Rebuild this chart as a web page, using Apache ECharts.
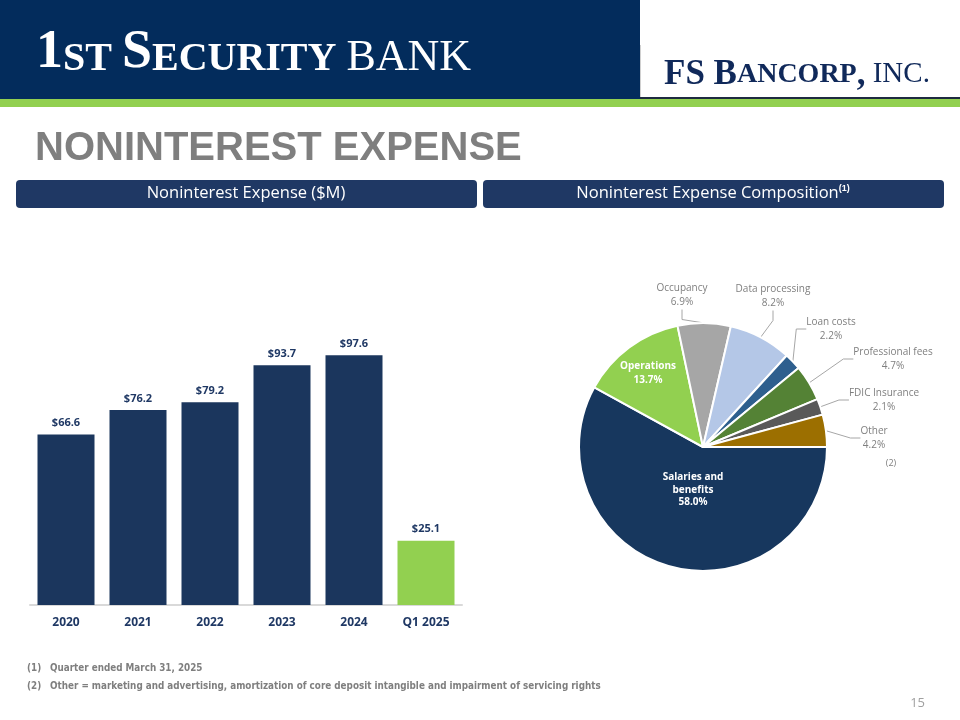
<!DOCTYPE html>
<html>
<head>
<meta charset="utf-8">
<script src="https://cdn.jsdelivr.net/npm/echarts@6/dist/echarts.min.js"></script>
<style>
html,body{margin:0;padding:0;background:#fff;}
#chart{width:960px;height:720px;}
</style>
</head>
<body>
<div id="chart"></div>
<script>
// ---- data ----
var barCategories = ['2020', '2021', '2022', '2023', '2024', 'Q1 2025'];
var barValues = [66.6, 76.2, 79.2, 93.7, 97.6, 25.1];
var pieNames = ['Salaries and benefits', 'Operations', 'Occupancy', 'Data processing', 'Loan costs', 'Professional fees', 'FDIC Insurance', 'Other'];
var pieValues = [58.0, 13.7, 6.9, 8.2, 2.2, 4.7, 2.1, 4.2];
var footnotes = ['Quarter ended March 31, 2025', 'Other = marketing and advertising, amortization of core deposit intangible and impairment of servicing rights'];

// ---- styles ----
var NAVY = '#1b365d';
var GREEN = '#92d050';
var pieColors = ['#17375e', '#92d050', '#a6a6a6', '#b4c7e7', '#2e5f8e', '#548235', '#595959', '#9c6f00'];
var insideNames = {'Salaries and benefits': true, 'Operations': true};
// label anchor positions (style only)
var labelPos = {
  'Salaries and benefits': [693, 490],
  'Operations': [648, 373],
  'Occupancy': [682, 295],
  'Data processing': [773, 296],
  'Loan costs': [831, 329],
  'Professional fees': [893, 359],
  'FDIC Insurance': [884, 400],
  'Other': [874, 438]
};

var pieData = pieNames.map(function (n, i) {
  var item = {name: n, value: pieValues[i], itemStyle: {color: pieColors[i]}};
  if (insideNames[n]) {
    item.label = {position: 'inside', color: '#ffffff', fontWeight: 'bold', fontSize: 10, lineHeight: n === 'Operations' ? 14 : 12.5};
    item.labelLine = {show: false};
  }
  return item;
});

var barData = barValues.map(function (v, i) {
  return {value: v, itemStyle: {color: barCategories[i].indexOf('Q1') === 0 ? GREEN : NAVY}};
});

var chart = echarts.init(document.getElementById('chart'), null, {renderer: 'canvas'});
var FONT = "'Open Sans', 'Noto Sans', sans-serif";
var NARROW = "'Liberation Sans Narrow', 'DejaVu Sans Condensed', sans-serif";
var SERIF = "'Liberation Serif', serif";

chart.setOption({
  animation: false,
  textStyle: {fontFamily: FONT},
  graphic: [
    // header
    {type: 'rect', left: 0, top: 0, shape: {width: 640, height: 99}, style: {fill: '#032c5c'}},
    {type: 'line', shape: {x1: 640.5, y1: 45, x2: 640.5, y2: 97}, style: {stroke: '#d0d0d0', lineWidth: 1}},
    {type: 'rect', left: 640, top: 97, shape: {width: 320, height: 2}, style: {fill: '#1d2a40'}},
    {type: 'rect', left: 0, top: 99, shape: {width: 960, height: 8}, style: {fill: '#92d050'}},
    {type: 'text', left: 36, top: 26, style: {
      text: '{b|1}{s|ST }{b|S}{s|ECURITY }{r|BANK}',
      rich: {
        b: {fontFamily: SERIF, fontWeight: 'bold', fontSize: 54, fill: '#ffffff', verticalAlign: 'bottom', lineHeight: 46},
        s: {fontFamily: SERIF, fontWeight: 'bold', fontSize: 40, fill: '#ffffff', verticalAlign: 'bottom', lineHeight: 46},
        r: {fontFamily: SERIF, fontWeight: 'normal', fontSize: 44, fill: '#ffffff', verticalAlign: 'bottom', lineHeight: 46}
      }
    }},
    {type: 'text', left: 664, top: 57, style: {
      text: '{b|FS B}{s|ANCORP}{b|,}{r| INC.}',
      rich: {
        b: {fontFamily: SERIF, fontWeight: 'bold', fontSize: 35, fill: '#10295a', lineHeight: 34},
        s: {fontFamily: SERIF, fontWeight: 'bold', fontSize: 28, fill: '#10295a', lineHeight: 34},
        r: {fontFamily: SERIF, fontWeight: 'normal', fontSize: 29, fill: '#10295a', lineHeight: 34}
      }
    }},
    // title
    {type: 'text', left: 35, top: 129, style: {text: 'NONINTEREST EXPENSE', fontFamily: "'Liberation Sans', Arial, sans-serif", fontWeight: 'bold', fontSize: 40, fill: '#7f7f7f'}},
    // section pills
    {type: 'rect', left: 16, top: 180, shape: {width: 461, height: 28, r: 4}, style: {fill: '#1f3864'}},
    {type: 'rect', left: 483, top: 180, shape: {width: 461, height: 28, r: 4}, style: {fill: '#1f3864'}},
    {type: 'text', x: 246, y: 193, style: {text: 'Noninterest Expense ($M)', fontFamily: FONT, fontSize: 16.5, fill: '#ffffff', align: 'center', verticalAlign: 'middle'}},
    {type: 'text', x: 713, y: 193, style: {
      text: 'Noninterest Expense Composition{sup|(1)}', fontFamily: FONT, fontSize: 16.5, fill: '#ffffff', align: 'center', verticalAlign: 'middle',
      rich: {sup: {fontSize: 9, fontWeight: 'bold', fill: '#ffffff', verticalAlign: 'top', padding: [0, 0, 8, 0]}}
    }},
    // (2) marker
    {type: 'text', x: 891, y: 463, style: {text: '(2)', fontFamily: FONT, fontSize: 9, fill: '#7f7f7f', align: 'center', verticalAlign: 'middle'}},
    // footnotes
    {type: 'text', left: 27, top: 663, style: {text: '(1)', fontFamily: NARROW, fontWeight: 'bold', fontSize: 9.8, fill: '#7f7f7f'}},
    {type: 'text', left: 50, top: 663, style: {text: footnotes[0], fontFamily: NARROW, fontWeight: 'bold', fontSize: 9.8, fill: '#7f7f7f'}},
    {type: 'text', left: 27, top: 681, style: {text: '(2)', fontFamily: NARROW, fontWeight: 'bold', fontSize: 9.8, fill: '#7f7f7f'}},
    {type: 'text', left: 50, top: 681, style: {text: footnotes[1], fontFamily: NARROW, fontWeight: 'bold', fontSize: 9.8, fill: '#7f7f7f'}},
    {type: 'text', x: 925, y: 703, style: {text: '15', fontFamily: FONT, fontSize: 13, fill: '#a0a0a0', align: 'right', verticalAlign: 'middle'}}
  ],
  grid: {left: 30, top: 349, width: 432, height: 256},
  xAxis: {
    type: 'category',
    data: barCategories,
    axisLine: {lineStyle: {color: '#d9d9d9', width: 2}},
    axisTick: {show: false},
    axisLabel: {color: '#1f3864', fontWeight: 'bold', fontSize: 12, margin: 12, fontFamily: FONT}
  },
  yAxis: {type: 'value', min: 0, max: 100, show: false, splitLine: {show: false}},
  series: [
    {
      type: 'bar',
      data: barData,
      barWidth: 57,
      label: {
        show: true, position: 'top', distance: 6,
        color: '#1f3864', fontWeight: 'bold', fontSize: 11, fontFamily: FONT,
        formatter: function (p) { return '$' + p.value.toFixed(1); }
      }
    },
    {
      type: 'pie',
      center: [703, 447],
      radius: [0, 124],
      startAngle: 0,
      clockwise: true,
      avoidLabelOverlap: false,
      itemStyle: {borderColor: '#ffffff', borderWidth: 2},
      label: {
        show: true, position: 'outside', color: '#7f7f7f', fontSize: 10, lineHeight: 14.5, fontFamily: FONT,
        formatter: function (p) {
          var n = p.name === 'Salaries and benefits' ? 'Salaries and\nbenefits' : p.name;
          return n + '\n' + p.value.toFixed(1) + '%';
        }
      },
      labelLine: {show: true, length: 10, length2: 10, lineStyle: {color: '#a6a6a6', width: 1}},
      labelLayout: function (params) {
        var pos = labelPos[pieNames[params.dataIndex]];
        return {x: pos[0], y: pos[1], align: 'center', verticalAlign: 'middle'};
      },
      data: pieData
    }
  ]
});
</script>
</body>
</html>
